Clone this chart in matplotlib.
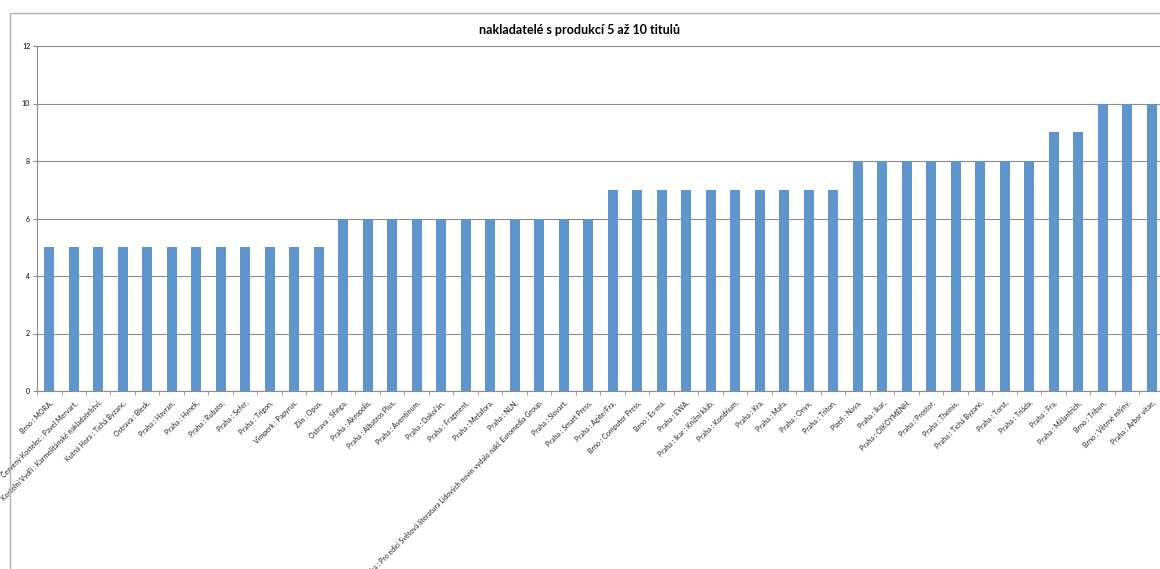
import matplotlib.pyplot as plt
import matplotlib.patches as mpatches
import numpy as np

publishers = [
    "Brno : MORA,", "Červený Kostelec : Pavel Mervart,",
    "Kostelní Vydří : Karmelitánské nakladatelství,", "Kutná Hora : Tichá Byzanc,",
    "Ostrava : Blesk,", "Praha : Havran,", "Praha : Hynek,", "Praha : Rubato,",
    "Praha : Sefer,", "Praha : Trigon,", "Vimperk : Papyrus,", "Zlín : Opus,",
    "Ostrava : Sfinga,", "Praha : Akropolis,", "Praha : Albatros Plus,",
    "Praha : Aventinum,", "Praha : Dokořán,", "Praha : Fragment,", "Praha : Metafora,",
    "Praha : NLN,",
    "Praha : Pro edici Světová literatura Lidových novin vydalo nakl. Euromedia Group,",
    "Praha : Slovart,", "Praha : Smart Press,", "Praha : Agite/Fra,",
    "Brno : Computer Press,", "Brno : Es-ma,", "Praha : EWA,",
    "Praha : Ikar : Knižní klub,", "Praha : Kondrium,", "Praha : Kra,",
    "Praha : Mafa,", "Praha : Onyx,", "Praha : Triton,", "Plzeň : Nava,",
    "Praha : Ikar,", "Praha : OIKOYMENH,", "Praha : Prostor,", "Praha : Themis,",
    "Praha : Tichá Byzanc,", "Praha : Torst,", "Praha : Triáda,", "Praha : Fra,",
    "Praha : Mělantrich,", "Brno : Tribun,", "Brno : Větrné mlýny,",
    "Praha : Arbor vitae,",
]
titles = [5] * 12 + [6] * 11 + [7] * 10 + [8] * 8 + [9] * 2 + [10] * 3

plt.rcParams['font.family'] = ['Lato', 'DejaVu Sans']

W, H = 1160, 569
fig = plt.figure(figsize=(W / 100, H / 100), dpi=100)

# outer chart frame
fig.patches.append(mpatches.Rectangle((10 / W, -0.1), 1.2, 1 - 13 / H + 0.1,
                                      transform=fig.transFigure, fill=False,
                                      edgecolor='#b0b0b0', linewidth=1.0))

left, right, top, bottom = 37, 1164, 46, 391
ax = fig.add_axes([left / W, 1 - bottom / H, (right - left) / W, (bottom - top) / H])

x = np.arange(len(titles))
ax.bar(x, titles, width=0.42, color='#5f95cd', zorder=3)

ax.set_xlim(-0.5, len(titles) - 0.5)
ax.set_ylim(0, 12)
ax.set_yticks(range(0, 13, 2))
ax.yaxis.grid(True, color='#8c8c8c', linewidth=0.8, zorder=0)
ax.tick_params(axis='y', labelsize=5, length=3, color='#8c8c8c', pad=2)

ax.set_xticks(x)
ax.set_xticklabels(publishers, rotation=45, ha='right', rotation_mode='anchor',
                   fontsize=5, color='#222222')
ax.tick_params(axis='x', length=0, pad=6)
ax.set_xticks(np.arange(-0.5, len(titles)), minor=True)
ax.tick_params(axis='x', which='minor', length=3, color='#8c8c8c')

for side in ['top', 'right']:
    ax.spines[side].set_visible(False)
for side in ['left', 'bottom']:
    ax.spines[side].set_color('#8c8c8c')
    ax.spines[side].set_linewidth(0.8)

fig.text(0.5 * (W + 10) / W - 0.005, 1 - 30 / H, "nakladatelé s produkcí 5 až 10 titulů",
         ha='center', va='center', fontsize=9, fontweight='bold')

fig.savefig('out.png', dpi=100)
